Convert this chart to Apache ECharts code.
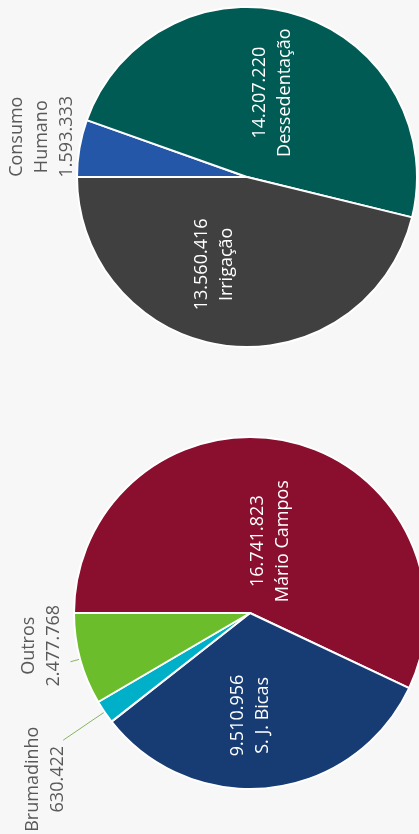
<!DOCTYPE html>
<html>
<head>
<meta charset="utf-8">
<script src="https://cdn.jsdelivr.net/npm/echarts@6/dist/echarts.min.js"></script>
<style>
  html, body { margin: 0; padding: 0; background: #f7f7f7; }
  #chart { width: 419px; height: 834px; }
</style>
</head>
<body>
<div id="chart"></div>
<script>
// uso da água (m³)
const useNames = ['Consumo\nHumano', 'Dessedentação', 'Irrigação']
const useValues = [1593333, 14207220, 13560416]
const useColors = ['#2457a8', '#005b55', '#404040']
const useOutside = [true, false, false]

// municípios (m³)
const cityNames = ['Mário Campos', 'S. J. Bicas', 'Brumadinho', 'Outros']
const cityValues = [16741823, 9510956, 630422, 2477768]
const cityColors = ['#8a0e2e', '#173c74', '#00afc8', '#6cbd2b']
const cityOutside = [false, false, true, true]

// ajuste fino dos rótulos na tela: 'serie-indice' = [x, y]
const nudges = {
  '0-0': [0, -5],
  '0-2': [-22, 0],
  '1-0': [0, 17],
  '1-1': [-10, 12],
  '1-2': [0, 39],
  '1-3': [0, -16]
}
const lineLen = { '0-0': 38, '1-2': 50, '1-3': 10 }
const lineDist = { '0-0': 0, '1-2': 18, '1-3': 29 }

let fmt = (v) => String(v).replace(/\B(?=(\d{3})+(?!\d))/g, '.')

let buildData = (names, values, colors, outside, s) => names.map((n, i) => {
  let item = { name: n, value: values[i], itemStyle: { color: colors[i] } }
  if (outside[i]) {
    let key = s + '-' + i
    item.label = {
      position: 'outside',
      color: '#595959',
      distanceToLabelLine: lineDist[key],
      formatter: (p) => p.name + '\n' + fmt(p.value)
    }
    item.labelLine = {
      show: key !== '0-0',
      length: lineLen[key],
      length2: 0,
      lineStyle: { color: '#86b660', width: 1 }
    }
  }
  return item
})

let chart = echarts.init(document.getElementById('chart'))

let baseSeries = {
  type: 'pie',
  startAngle: 180,
  clockwise: true,
  avoidLabelOverlap: false,
  animation: false,
  itemStyle: { borderColor: '#ffffff', borderWidth: 2 },
  label: {
    position: 'inside',
    rotate: 90,
    color: '#ffffff',
    fontFamily: 'Open Sans',
    fontSize: 18,
    lineHeight: 25,
    formatter: (p) => fmt(p.value) + '\n' + p.name
  },
  labelLayout: function (params) {
    let key = params.seriesIndex + '-' + params.dataIndex
    let n = nudges[key] || [0, 0]
    // o rótulo está girado 90°: dx/dy valem no eixo do texto
    return { align: 'center', verticalAlign: 'middle', dx: -n[1], dy: n[0] }
  },
  emphasis: { disabled: true }
}

let option = {
  backgroundColor: '#f7f7f7',
  animation: false,
  series: [
    Object.assign({}, baseSeries, {
      center: [247, 177],
      radius: 170,
      data: buildData(useNames, useValues, useColors, useOutside, 0)
    }),
    Object.assign({}, baseSeries, {
      center: [250, 613],
      radius: 176,
      data: buildData(cityNames, cityValues, cityColors, cityOutside, 1)
    })
  ]
}
chart.setOption(option)
</script>
</body>
</html>
